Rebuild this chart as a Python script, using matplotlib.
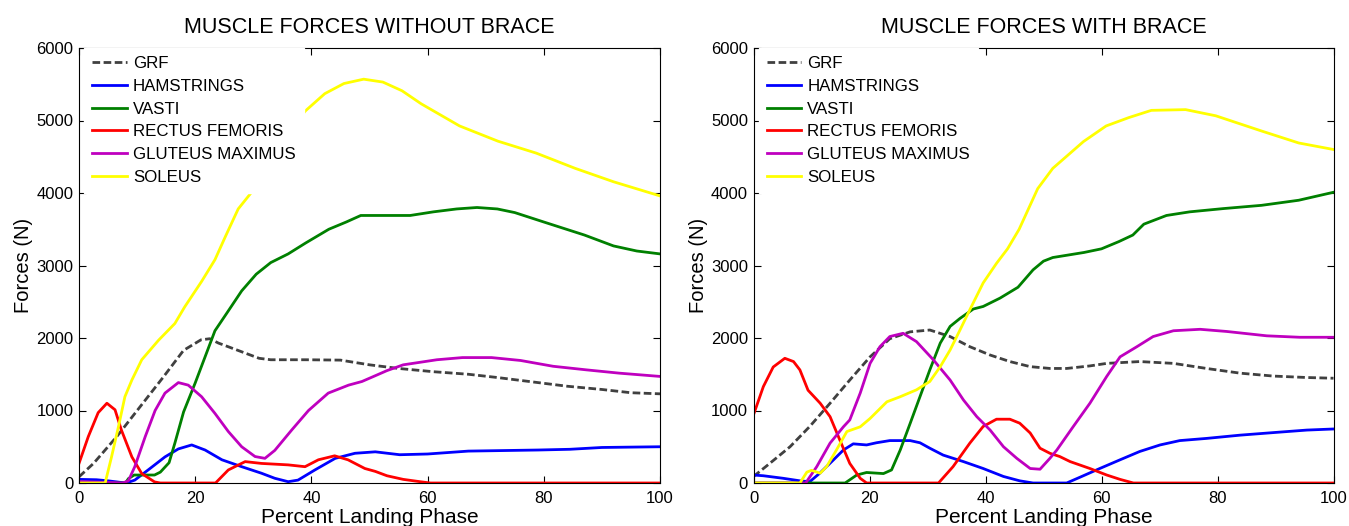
import matplotlib
matplotlib.use("Agg")
import matplotlib.pyplot as plt

plt.rcParams['font.family'] = ['Liberation Sans', 'DejaVu Sans']
plt.rcParams['lines.scale_dashes'] = False

# ---- data (x = percent landing phase, y = force N) ----
# without brace
grf_x_nb = [0, 2.5, 6.5, 10.5, 14.5, 18, 21, 22.5, 24, 28, 31, 33, 39, 45, 50, 55, 61, 67, 72, 78, 84, 90, 95, 100]
grf_y_nb = [85, 270, 640, 1050, 1460, 1830, 1975, 1990, 1930, 1810, 1720, 1700, 1700, 1695, 1630, 1580, 1535, 1500, 1455, 1395, 1335, 1290, 1245, 1230]

ham_x_nb = [0, 3, 5, 7.5, 8.5, 9.6, 11.9, 14.8, 17.1, 19.4, 21.7, 24.6, 28, 31.4, 33.7, 36, 37.7, 40.6, 44.1, 47.5, 51, 55.2, 60, 67, 79, 84.5, 90, 100]
ham_y_nb = [50, 45, 30, 5, 10, 40, 180, 360, 470, 525, 455, 320, 225, 135, 65, 18, 40, 180, 340, 410, 430, 390, 400, 440, 455, 465, 490, 500]

vas_x_nb = [0, 8, 8.5, 9.5, 13, 14, 15.5, 16.5, 18, 20, 21.7, 23.4, 25.5, 28, 30.5, 33, 36, 39, 43, 46, 48.5, 57, 61, 65, 68.5, 72, 75, 80, 87, 92, 96, 100]
vas_y_nb = [0, 0, 60, 110, 110, 150, 280, 550, 980, 1380, 1740, 2100, 2350, 2650, 2880, 3040, 3160, 3310, 3500, 3600, 3690, 3690, 3740, 3780, 3800, 3780, 3730, 3600, 3420, 3270, 3200, 3160]

rf_x_nb = [0, 1.6, 3.3, 4.8, 6.2, 7.3, 9.1, 10.8, 13, 14, 23.5, 25.7, 28.6, 31.4, 36, 38.9, 41.2, 44, 46.3, 49.2, 51, 53, 55.8, 58.7, 60.5, 100]
rf_y_nb = [270, 640, 970, 1100, 1010, 730, 360, 130, 15, 0, 0, 180, 295, 270, 250, 225, 320, 375, 320, 200, 160, 100, 50, 18, 0, 0]

glu_x_nb = [0, 4, 7.5, 8.5, 9.6, 11.4, 13.1, 14.8, 17.1, 18.8, 21.1, 23.4, 25.7, 28, 30.3, 32, 33.7, 36.6, 39.5, 42.9, 46.4, 48.7, 51, 53, 55.8, 61.6, 66, 71, 76, 81.6, 87.4, 93, 100]
glu_y_nb = [20, 10, 0, 30, 225, 640, 1000, 1240, 1385, 1350, 1190, 960, 710, 500, 365, 340, 450, 730, 1000, 1240, 1350, 1400, 1480, 1550, 1630, 1700, 1730, 1730, 1690, 1610, 1560, 1515, 1470]

sol_x_nb = [0, 3.5, 4.5, 5.6, 6.8, 7.9, 9.1, 10.8, 13.7, 16.5, 18.2, 21.1, 23.4, 25.2, 27.4, 30, 33, 36, 39, 42.3, 45.6, 49, 52.3, 55.6, 58.9, 65.5, 72.1, 78.7, 85.4, 92, 100]
sol_y_nb = [0, 0, 0, 360, 780, 1190, 1420, 1700, 1970, 2200, 2430, 2780, 3080, 3400, 3780, 4040, 4500, 4850, 5135, 5370, 5510, 5570, 5530, 5410, 5230, 4925, 4715, 4550, 4340, 4155, 3960]

# with brace
grf_x_b = [0, 2.8, 6.3, 9.7, 13.2, 16.6, 20.1, 23.5, 27, 30.4, 33.9, 37.3, 40.8, 44.2, 47.7, 51.1, 54, 58, 60.9, 66.6, 72.4, 78.1, 83.9, 89.6, 95.4, 100]
grf_y_b = [90, 270, 500, 780, 1100, 1420, 1740, 1990, 2085, 2110, 2020, 1880, 1765, 1675, 1605, 1580, 1580, 1615, 1650, 1675, 1650, 1580, 1515, 1475, 1455, 1445]

ham_x_b = [0, 1.7, 5.1, 8, 9.7, 11.5, 13.8, 15.5, 17.2, 19.5, 21.2, 23.5, 27, 28.7, 30.4, 32.7, 36.2, 39.6, 43.1, 45.9, 48.2, 54, 56.3, 59.7, 63.2, 66.6, 70.1, 73.5, 78.1, 83.9, 89.6, 95.4, 100]
ham_y_b = [110, 100, 65, 30, 18, 140, 320, 455, 540, 525, 555, 585, 585, 555, 480, 385, 295, 200, 90, 30, 0, 0, 80, 200, 320, 435, 525, 585, 615, 660, 695, 730, 745]

vas_x_b = [0, 15.8, 17.8, 19.5, 22.4, 23.8, 25.3, 27, 28.7, 30.4, 32.2, 33.9, 35.6, 37.9, 39.6, 42.5, 45.6, 48.2, 50, 51.6, 57, 60, 63, 65.4, 67.3, 71.2, 75.2, 81, 87.6, 94, 100]
vas_y_b = [0, 0, 110, 145, 130, 180, 455, 820, 1190, 1560, 1930, 2160, 2270, 2400, 2435, 2550, 2700, 2940, 3060, 3110, 3180, 3230, 3330, 3420, 3570, 3690, 3740, 3785, 3830, 3900, 4010]

rf_x_b = [0, 1.7, 3.4, 5.4, 6.9, 8, 9.4, 11.5, 13.2, 14.9, 16.6, 18.4, 19.5, 31.9, 34.4, 37.3, 39.6, 41.9, 44.2, 45.9, 47.7, 49.4, 51.1, 52.8, 54.6, 58, 60.9, 63.2, 65.5, 100]
rf_y_b = [940, 1330, 1600, 1720, 1675, 1560, 1280, 1100, 915, 590, 270, 65, 0, 0, 225, 550, 780, 880, 880, 825, 690, 480, 410, 365, 295, 200, 110, 50, 0, 0]

glu_x_b = [0, 9, 10.9, 13.2, 15.5, 16.6, 18.4, 20.1, 21.8, 23.5, 25.8, 28.1, 31, 33.9, 36.2, 38.5, 40.8, 43.1, 45.4, 47.7, 49.4, 51.1, 52.3, 55.1, 58, 60.9, 63.2, 66.1, 68.9, 72.4, 77, 81.6, 88.5, 94.2, 100]
glu_y_b = [0, 0, 225, 550, 775, 870, 1240, 1650, 1880, 2020, 2065, 1950, 1700, 1420, 1145, 915, 730, 500, 340, 200, 190, 340, 455, 775, 1100, 1470, 1740, 1880, 2020, 2100, 2120, 2090, 2030, 2010, 2010]

sol_x_b = [0, 8, 9.2, 10, 11.5, 12.6, 14.3, 16.1, 18.4, 20.1, 23, 25.3, 28.1, 30.4, 32.2, 33.9, 35.6, 37.3, 39.6, 41.9, 43.8, 45.8, 49, 51.6, 56.9, 60.8, 64.7, 68.6, 74.5, 79.7, 87.6, 94, 100]
sol_y_b = [0, 0, 150, 175, 135, 225, 455, 710, 775, 890, 1120, 1190, 1285, 1400, 1605, 1835, 2110, 2390, 2760, 3030, 3230, 3500, 4060, 4340, 4710, 4925, 5040, 5140, 5150, 5065, 4855, 4690, 4600]

labels = ['GRF', 'HAMSTRINGS', 'VASTI', 'RECTUS FEMORIS', 'GLUTEUS MAXIMUS', 'SOLEUS']
colors = ['#404040', '#0000ff', '#008000', '#ff0000', '#bf00bf', '#ffff00']
titles = ['MUSCLE FORCES WITHOUT BRACE', 'MUSCLE FORCES WITH BRACE']

panels = [
    [(grf_x_nb, grf_y_nb), (ham_x_nb, ham_y_nb), (vas_x_nb, vas_y_nb),
     (rf_x_nb, rf_y_nb), (glu_x_nb, glu_y_nb), (sol_x_nb, sol_y_nb)],
    [(grf_x_b, grf_y_b), (ham_x_b, ham_y_b), (vas_x_b, vas_y_b),
     (rf_x_b, rf_y_b), (glu_x_b, glu_y_b), (sol_x_b, sol_y_b)],
]

fig = plt.figure(figsize=(13.49, 5.26), dpi=100)
boxes = [[79 / 1349, 43 / 526, 581 / 1349, 435 / 526],
         [753.5 / 1349, 43 / 526, 580 / 1349, 435 / 526]]

for box, series, title in zip(boxes, panels, titles):
    ax = fig.add_axes(box)
    for (xs, ys), lab, col in zip(series, labels, colors):
        if lab == 'GRF':
            ax.plot(xs, ys, color=col, lw=2.0, dashes=(5.5, 2.5), label=lab)
        else:
            ax.plot(xs, ys, color=col, lw=2.0, label=lab)
    ax.set_xlim(0, 100)
    ax.set_ylim(0, 6000)
    ax.set_xticks(range(0, 101, 20))
    ax.set_yticks(range(0, 6001, 1000))
    ax.tick_params(direction='in', length=5, width=0.8, top=True, right=True,
                   labelsize=12, pad=4)
    ax.tick_params(axis='x', pad=6)
    for sp in ax.spines.values():
        sp.set_linewidth(0.8)
    ax.set_title(title, fontsize=15.5, pad=10.5)
    ax.set_xlabel('Percent Landing Phase', fontsize=15)
    ax.xaxis.set_label_coords(0.5, -0.058)
    ax.xaxis.label.set_verticalalignment('top')
    ax.set_ylabel('Forces (N)', fontsize=14.5)
    ax.yaxis.set_label_coords(-0.079, 0.5)
    ax.legend(loc='upper left', bbox_to_anchor=(0.009, 1.0), borderaxespad=0,
              fontsize=12.2, frameon=True, facecolor='white', edgecolor='white',
              framealpha=1, fancybox=False, borderpad=0.47, labelspacing=0.46,
              handlelength=2.05, handletextpad=0.35)

fig.savefig('out.png', dpi=100)
